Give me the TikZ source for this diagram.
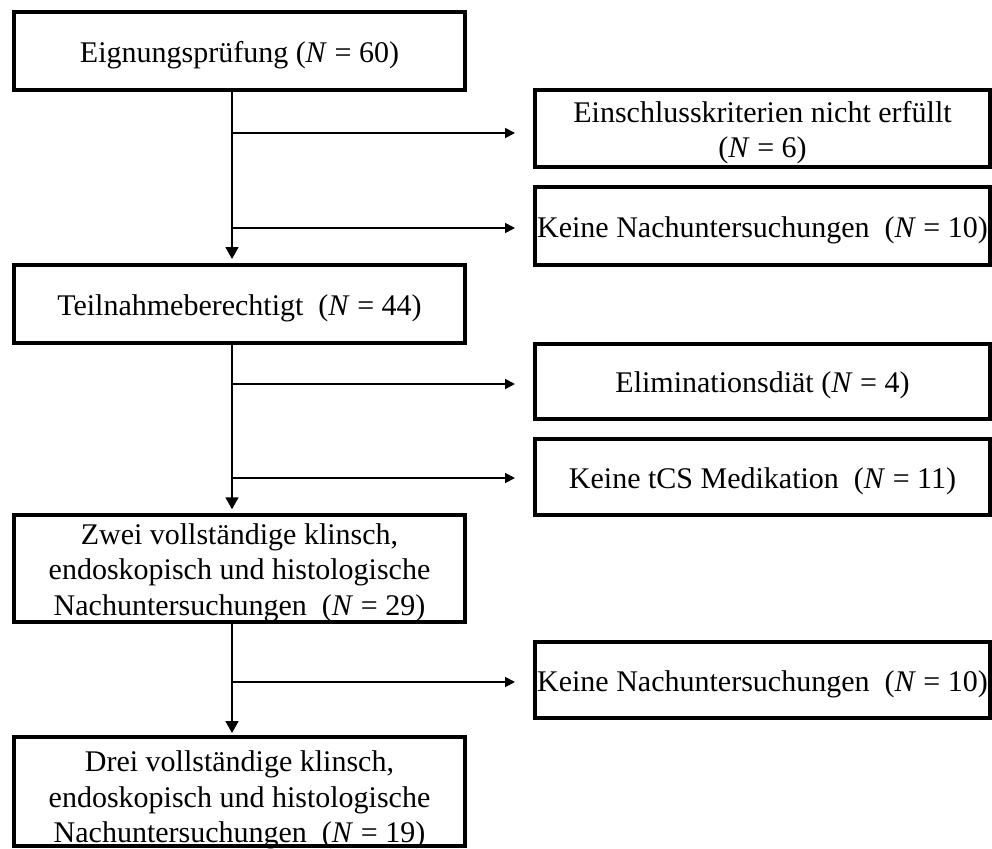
\documentclass[tikz,border=0pt]{standalone}
\usepackage{fontspec}
\setmainfont{Liberation Serif}
\usetikzlibrary{arrows.meta}
\newcommand\liftline{\rule{0pt}{29pt}}
\begin{document}
\begin{tikzpicture}[x=1pt,y=-1pt,
  box/.style={draw, line width=4pt, rectangle, inner sep=0pt, align=center,
              font=\fontsize{30}{35.5}\selectfont},
  lbox/.style={box, minimum width=451pt},
  rbox/.style={box, minimum width=455pt},
  txt/.style={inner sep=0pt, align=center, font=\fontsize{30}{35.5}\selectfont},
  conn/.style={line width=1.8pt},
  varr/.style={conn, -{Triangle[length=12pt,width=13pt]}},
  harr/.style={conn, -{Triangle[length=10pt,width=10pt]}}]
\useasboundingbox (0,0) rectangle (992,848);
% left column
\node[lbox, minimum height=78pt] (b1) at (239.5,51) {\liftline Eignungsprüfung (\textit{N} = 60)};
\node[lbox, minimum height=78pt] (b2) at (239.5,304) {\liftline Teilnahmeberechtigt~ (\textit{N} = 44)};
\node[lbox, minimum height=105pt] (b3) at (239.5,568.5)
  {\liftline Zwei vollständige klinsch,\\endoskopisch und histologische\\Nachuntersuchungen~ (\textit{N} = 29)};
\node[lbox, minimum height=109pt] (b4) at (239.5,791.5) {};
\node[txt] (b4t) at (239.5,800)
  {Drei vollständige klinsch,\\endoskopisch und histologische\\Nachuntersuchungen~ (\textit{N} = 19)};
% right column
\node[rbox, minimum height=77pt] (A) at (762.5,128.5) {\liftline Einschlusskriterien nicht erfüllt\\(\textit{N} = 6)};
\node[rbox, minimum height=78pt] (B) at (762.5,226) {\liftline Keine Nachuntersuchungen~ (\textit{N} = 10)};
\node[rbox, minimum height=75pt] (C) at (762.5,381.5) {\liftline Eliminationsdiät (\textit{N} = 4)};
\node[rbox, minimum height=76pt] (D) at (762.5,477) {\liftline Keine tCS Medikation~ (\textit{N} = 11)};
\node[rbox, minimum height=76pt] (E) at (762.5,680) {\liftline Keine Nachuntersuchungen~ (\textit{N} = 10)};
% trunk x position and branch points
\coordinate (v) at (232,0);
\coordinate (j1) at (232,133);
\coordinate (j2) at (232,228);
\coordinate (j3) at (232,384);
\coordinate (j4) at (232,478);
\coordinate (j5) at (232,682);
% vertical connectors
\draw[varr, shorten >=4pt] (b1.south -| v) -- (b2.north -| v);
\draw[varr, shorten >=4pt] (b2.south -| v) -- (b3.north -| v);
\draw[varr, shorten >=2pt] (b3.south -| v) -- (b4.north -| v);
% horizontal connectors
\draw[harr, shorten >=18pt] (j1) -- (j1 -| A.west);
\draw[harr, shorten >=18pt] (j2) -- (j2 -| B.west);
\draw[harr, shorten >=18pt] (j3) -- (j3 -| C.west);
\draw[harr, shorten >=18pt] (j4) -- (j4 -| D.west);
\draw[harr, shorten >=18pt] (j5) -- (j5 -| E.west);
\end{tikzpicture}
\end{document}
